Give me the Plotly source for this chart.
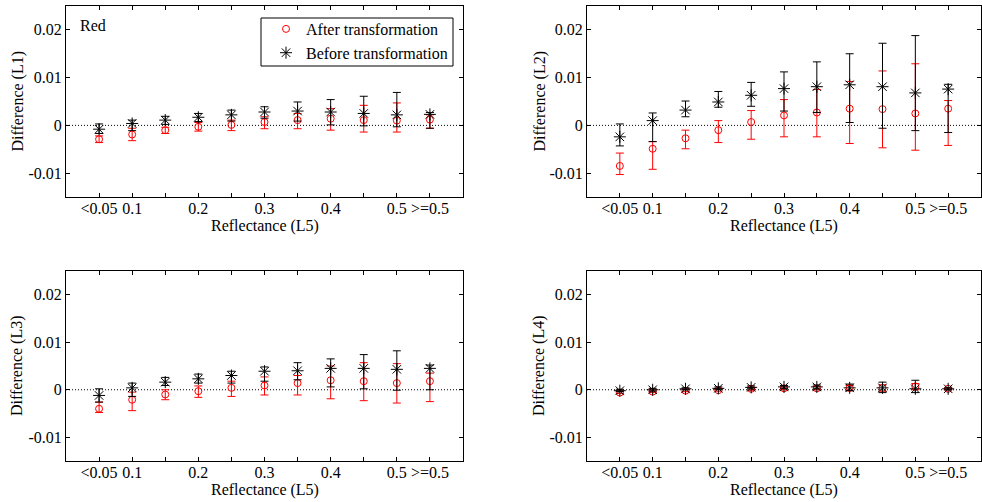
import plotly.graph_objects as go

positions = [1, 2, 3, 4, 5, 6, 7, 8, 9, 10, 11]
tick_labels = ["<0.05", "0.1", "", "0.2", "", "0.3", "", "0.4", "", "0.5", ">=0.5"]
y_ticks = [-0.01, 0, 0.01, 0.02]
y_tick_labels = ["-0.01", "0", "0.01", "0.02"]

# Panel L1
L1_after_mean = [-0.0029, -0.0019, -0.0010, -0.0003, 0.0001, 0.0007, 0.0011, 0.0014, 0.0011, 0.0010, 0.0012]
L1_after_hi = [-0.0022, -0.0006, -0.0004, 0.0006, 0.0011, 0.0018, 0.0025, 0.0035, 0.0042, 0.0047, 0.0022]
L1_after_lo = [-0.0036, -0.0032, -0.0017, -0.0012, -0.0011, -0.0007, -0.0007, -0.0010, -0.0014, -0.0014, -0.0006]
L1_before_mean = [-0.0008, 0.0004, 0.0011, 0.0017, 0.0022, 0.0028, 0.0030, 0.0028, 0.0025, 0.0022, 0.0023]
L1_before_hi = [0.0003, 0.0011, 0.0019, 0.0025, 0.0032, 0.0039, 0.0049, 0.0054, 0.0061, 0.0069, 0.0027]
L1_before_lo = [-0.0017, -0.0011, 0.0002, 0.0008, 0.0009, 0.0015, 0.0009, 0.0001, -0.0001, -0.0003, -0.0006]

# Panel L2
L2_after_mean = [-0.0085, -0.0049, -0.0027, -0.0010, 0.0007, 0.0021, 0.0027, 0.0035, 0.0034, 0.0025, 0.0035]
L2_after_hi = [-0.0058, -0.0034, -0.0010, 0.0010, 0.0031, 0.0054, 0.0075, 0.0092, 0.0114, 0.0129, 0.0052]
L2_after_lo = [-0.0103, -0.0092, -0.0049, -0.0036, -0.0029, -0.0024, -0.0024, -0.0038, -0.0047, -0.0052, -0.0042]
L2_before_mean = [-0.0024, 0.0010, 0.0032, 0.0049, 0.0063, 0.0077, 0.0081, 0.0085, 0.0081, 0.0068, 0.0076]
L2_before_hi = [0.0003, 0.0026, 0.0051, 0.0071, 0.0090, 0.0112, 0.0133, 0.0150, 0.0172, 0.0188, 0.0086]
L2_before_lo = [-0.0043, -0.0034, 0.0018, 0.0038, 0.0040, 0.0030, 0.0027, 0.0006, -0.0006, -0.0011, -0.0015]

# Panel L3
L3_after_mean = [-0.0040, -0.0021, -0.0010, -0.0003, 0.0004, 0.0009, 0.0014, 0.0020, 0.0018, 0.0014, 0.0018]
L3_after_hi = [-0.0026, -0.0005, 0.0000, 0.0008, 0.0018, 0.0027, 0.0030, 0.0050, 0.0057, 0.0055, 0.0035]
L3_after_lo = [-0.0048, -0.0044, -0.0021, -0.0016, -0.0014, -0.0011, -0.0011, -0.0019, -0.0023, -0.0028, -0.0025]
L3_before_mean = [-0.0012, 0.0004, 0.0016, 0.0023, 0.0030, 0.0039, 0.0040, 0.0045, 0.0045, 0.0043, 0.0045]
L3_before_hi = [0.0002, 0.0014, 0.0026, 0.0033, 0.0039, 0.0048, 0.0057, 0.0065, 0.0074, 0.0082, 0.0052]
L3_before_lo = [-0.0026, -0.0014, 0.0009, 0.0014, 0.0014, 0.0018, 0.0021, 0.0006, 0.0002, -0.0001, 0.0000]

# Panel L4
L4_after_mean = [-0.0006, -0.0004, -0.0002, -0.0001, 0.0002, 0.0003, 0.0003, 0.0004, 0.0004, 0.0007, 0.0002]
L4_after_hi = [-0.0003, -0.0002, 0.0001, 0.0002, 0.0005, 0.0006, 0.0007, 0.0009, 0.0010, 0.0013, 0.0004]
L4_after_lo = [-0.0008, -0.0006, -0.0004, -0.0003, -0.0001, 0.0000, 0.0000, -0.0002, -0.0003, 0.0000, 0.0000]
L4_before_mean = [-0.0002, 0.0000, 0.0002, 0.0003, 0.0005, 0.0006, 0.0006, 0.0004, 0.0004, 0.0002, 0.0002]
L4_before_hi = [0.0001, 0.0003, 0.0004, 0.0006, 0.0008, 0.0009, 0.0010, 0.0012, 0.0016, 0.0020, 0.0004]
L4_before_lo = [-0.0004, -0.0003, 0.0000, 0.0001, 0.0002, 0.0003, 0.0002, -0.0002, -0.0006, -0.0006, 0.0000]

panels = [
    ("L1", L1_after_mean, L1_after_hi, L1_after_lo, L1_before_mean, L1_before_hi, L1_before_lo),
    ("L2", L2_after_mean, L2_after_hi, L2_after_lo, L2_before_mean, L2_before_hi, L2_before_lo),
    ("L3", L3_after_mean, L3_after_hi, L3_after_lo, L3_before_mean, L3_before_hi, L3_before_lo),
    ("L4", L4_after_mean, L4_after_hi, L4_after_lo, L4_before_mean, L4_before_hi, L4_before_lo),
]

W, H = 982, 502
# pixel boxes of the four plot areas: (left, right, top, bottom)
boxes = [(66, 463, 6, 197), (587, 981, 6, 197), (66, 463, 271, 461), (587, 981, 271, 461)]
ytitle_x = [17, 539, 17, 539]

FONT = "Liberation Serif"
FS = 16
fig = go.Figure()

layout = dict(
    width=W, height=H,
    margin=dict(l=0, r=0, t=0, b=0),
    paper_bgcolor="white", plot_bgcolor="white",
    font=dict(family=FONT, size=FS, color="black"),
    showlegend=True,
    legend=dict(
        x=453 / W, y=1 - 12 / H, xanchor="right", yanchor="top",
        borderwidth=0, bgcolor="rgba(0,0,0,0)",
        font=dict(family=FONT, size=FS, color="black"),
        itemwidth=30, tracegroupgap=0,
    ),
    shapes=[
        # legend frame
        dict(type="rect", xref="paper", yref="paper", x0=261 / W, x1=453 / W,
             y0=1 - 66 / H, y1=1 - 18 / H, line=dict(color="black", width=1),
             fillcolor="white", layer="above"),
    ],
    annotations=[],
)

def diff(a, b):
    return [round(x - y, 6) for x, y in zip(a, b)]

for i, (name, am, ah, al, bm, bh, bl) in enumerate(panels):
    k = "" if i == 0 else str(i + 1)
    xa, ya = "x" + k, "y" + k
    left, right, top, bottom = boxes[i]
    fig.add_trace(go.Scatter(
        x=positions, y=am, xaxis=xa, yaxis=ya, mode="markers",
        name="After transformation", showlegend=(i == 0),
        marker=dict(symbol="circle-open", size=7, color="red", line=dict(width=1, color="red")),
        error_y=dict(type="data", symmetric=False, array=diff(ah, am), arrayminus=diff(am, al),
                     color="red", thickness=1, width=4),
    ))
    fig.add_trace(go.Scatter(
        x=positions, y=bm, xaxis=xa, yaxis=ya, mode="markers",
        name="Before transformation", showlegend=(i == 0),
        marker=dict(symbol="asterisk-open", size=10, color="black", line=dict(width=1, color="black")),
        error_y=dict(type="data", symmetric=False, array=diff(bh, bm), arrayminus=diff(bm, bl),
                     color="black", thickness=1, width=4),
    ))
    layout["xaxis" + k] = dict(
        domain=[left / W, right / W], anchor=ya, range=[0, 12],
        tickmode="array", tickvals=positions, ticktext=tick_labels,
        ticks="inside", ticklen=4, tickcolor="black", showline=True, linecolor="black",
        linewidth=1, mirror="ticks", showgrid=False, zeroline=False,
        tickfont=dict(family=FONT, size=FS), ticklabelstandoff=-3,
    )
    layout["yaxis" + k] = dict(
        domain=[1 - bottom / H, 1 - top / H], anchor=xa, range=[-0.015, 0.025],
        tickmode="array", tickvals=y_ticks, ticktext=y_tick_labels,
        ticks="inside", ticklen=4, tickcolor="black", showline=True, linecolor="black",
        linewidth=1, mirror="ticks", showgrid=False, zeroline=False,
        tickfont=dict(family=FONT, size=FS),
    )
    layout["shapes"].append(dict(
        type="line", xref=xa + " domain", yref=ya, x0=0, x1=1, y0=0, y1=0,
        line=dict(color="black", width=1, dash="1px,2px"), layer="below",
    ))
    # axis titles
    layout["annotations"].append(dict(
        text="Reflectance (L5)", xref="paper", yref="paper",
        x=(left + right) / 2 / W, y=1 - (bottom + 29) / H, xanchor="center", yanchor="middle",
        showarrow=False, font=dict(family=FONT, size=FS),
    ))
    layout["annotations"].append(dict(
        text="Difference (" + name + ")", xref="paper", yref="paper", textangle=-90,
        x=ytitle_x[i] / W, y=1 - (top + bottom) / 2 / H, xanchor="center", yanchor="middle",
        showarrow=False, font=dict(family=FONT, size=FS),
    ))

layout["annotations"].append(dict(
    text="Red", xref="paper", yref="paper", x=78 / W, y=1 - 26 / H,
    xanchor="left", yanchor="middle", showarrow=False, font=dict(family=FONT, size=FS),
))

fig.update_layout(**layout)
fig.write_html("out.html", config={"displayModeBar": False},
               post_script="document.body.style.margin='0';")
